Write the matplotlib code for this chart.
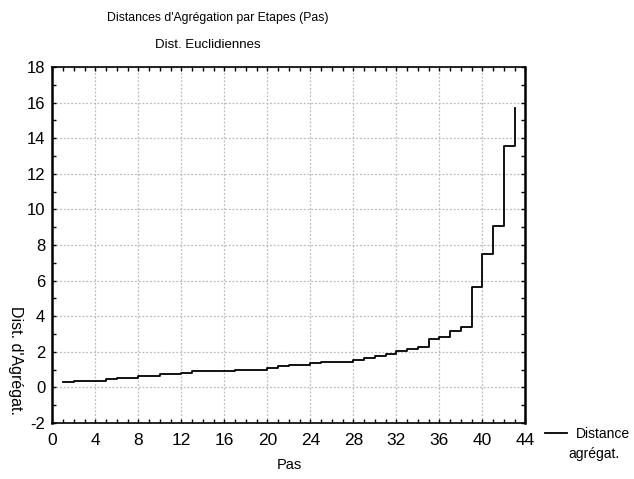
import numpy as np
import matplotlib.pyplot as plt
from matplotlib.ticker import MultipleLocator

plt.rcParams['font.family'] = ['Liberation Sans', 'DejaVu Sans']
plt.rcParams['axes.unicode_minus'] = False

# pas (steps) et distances d'agregation
pas = np.arange(1, 44)
dist = [0.28, 0.37, 0.37, 0.37, 0.47, 0.54, 0.54, 0.64, 0.64, 0.72,
        0.73, 0.82, 0.93, 0.93, 0.93, 0.93, 0.99, 0.99, 0.99, 1.08,
        1.20, 1.27, 1.27, 1.35, 1.44, 1.44, 1.44, 1.53, 1.63, 1.78,
        1.89, 2.06, 2.17, 2.25, 2.70, 2.84, 3.15, 3.39, 5.62, 7.49,
        9.08, 13.54, 15.67]

xticks = np.arange(0, 45, 4)
yticks = np.arange(-2, 19, 2)

fig = plt.figure(figsize=(6.34, 4.79), dpi=100)
ax = fig.add_axes([0.0825, 0.1171, 0.7461, 0.7432])

ax.plot(pas, dist, color='black', lw=1.3, drawstyle='steps-post', label='Distance')

ax.set_xlim(0, 44)
ax.set_ylim(-2, 18)
ax.set_xticks(xticks)
ax.set_yticks(yticks)
ax.xaxis.set_minor_locator(MultipleLocator(1))
ax.yaxis.set_minor_locator(MultipleLocator(1))
ax.tick_params(which='both', direction='in', top=True, right=True, length=3, width=1)
ax.tick_params(axis='x', labelsize=12.5, pad=7)
ax.tick_params(axis='y', labelsize=12, pad=5)
ax.grid(True, which='major', color='#bbbbbb', ls=(0, (1.5, 1.5)), lw=0.9)
for s in ax.spines.values():
    s.set_linewidth(1.2)
ax.spines['left'].set_linewidth(1.8)
ax.spines['right'].set_linewidth(1.8)

fig.text(0.344, 0.962, "Distances d'Agrégation par Etapes (Pas)", ha='center', va='center', fontsize=8.8)
fig.text(0.327, 0.906, "Dist. Euclidiennes", ha='center', va='center', fontsize=9.5)
fig.text(0.456, 0.029, "Pas", ha='center', va='center', fontsize=10.5)
fig.text(0.024, 0.248, "Dist. d'Agrégat.", ha='center', va='center', rotation=270, fontsize=11.5)

fig.legend(loc='center left', bbox_to_anchor=(0.859, 0.094), frameon=False,
           handlelength=1.6, handletextpad=0.65, fontsize=10, borderpad=0, borderaxespad=0)
fig.text(0.937, 0.052, "agrégat.", ha='center', va='center', fontsize=10)

fig.savefig('out.png', dpi=100)
